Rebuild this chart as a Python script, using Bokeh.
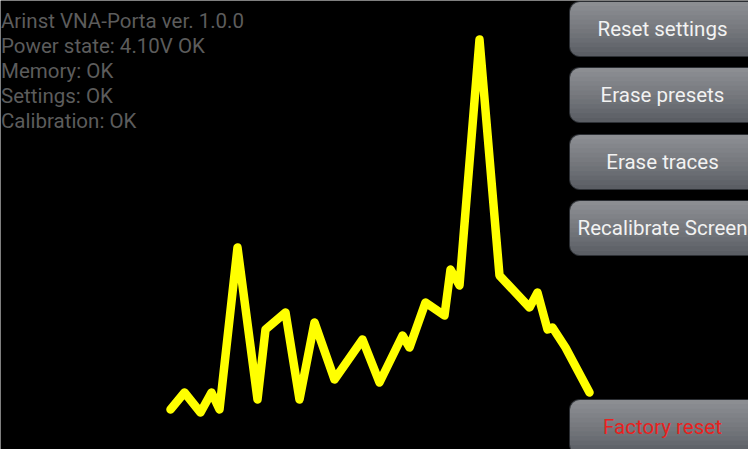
from bokeh.plotting import figure
from bokeh.models import Range1d
from bokeh.embed import file_html
from bokeh.resources import INLINE
from bokeh.core.properties import value

# ---- data ----
trace_x = [170, 184, 200, 211, 219, 237, 257, 265, 285, 299, 314, 334, 362, 379,
           402, 409, 425, 444, 450, 459, 479, 499, 529, 537, 547, 552, 565, 589]
trace_level = [40, 57, 37, 57, 40, 202, 50, 120, 137, 50, 127, 70, 110, 67,
               114, 102, 147, 134, 180, 164, 410, 174, 142, 157, 120, 122, 102, 57]

status_lines = ["Arinst VNA-Porta ver. 1.0.0", "Power state: 4.10V OK", "Memory: OK",
                "Settings: OK", "Calibration: OK"]
button_labels = ["Reset settings", "Erase presets", "Erase traces", "Recalibrate Screen",
                 "Factory reset"]
button_colors = ["#f2f2f2", "#f2f2f2", "#f2f2f2", "#f2f2f2", "#e8221f"]

W, H = 748, 449
p = figure(width=W, height=H, output_backend="svg", toolbar_location=None,
           x_range=Range1d(0, W), y_range=Range1d(0, H), min_border=0,
           background_fill_color="black", border_fill_color="black",
           outline_line_color=None)
p.axis.visible = False
p.grid.visible = False

# status text
status_y = [H - 20 - 25 * i for i in range(len(status_lines))]
p.text(x=[0.5] * len(status_lines), y=status_y, text=status_lines,
       text_font=value("Roboto"), text_font_size="20.5px", text_color="#5c5c5c",
       text_baseline="alphabetic", text_align="left")

# buttons
btn_tops = [H - 1, H + 8 - 75, H + 8 - 142, H + 8 - 208, H + 8 - 407]
btn_h = 55
left, right = 569, 762
r = 10
for top, label, col in zip(btn_tops, button_labels, button_colors):
    bottom = top - btn_h
    p.quad(left=left, right=right, top=top, bottom=bottom, fill_color="#55595f",
           line_color="#2b2e33", line_width=1, border_radius=r)
    n = 12
    for i in range(n):
        b = top - btn_h * (i + 1) / n
        p.quad(left=left + 0.5, right=right, top=top - 0.5, bottom=b,
               fill_color="white", fill_alpha=0.035, line_color=None,
               border_radius=(r, r, 0, 0) if i < n - 1 else r)
    p.text(x=[662], y=[top - btn_h / 2], text=[label], text_font=value("Roboto"),
           text_font_size="20.5px", text_color=col, text_align="center",
           text_baseline="middle")

# trace
p.line(trace_x, trace_level, line_color="#ffff00", line_width=8.5,
       line_join="round", line_cap="round")

open("out.html", "w").write(file_html(p, INLINE))
